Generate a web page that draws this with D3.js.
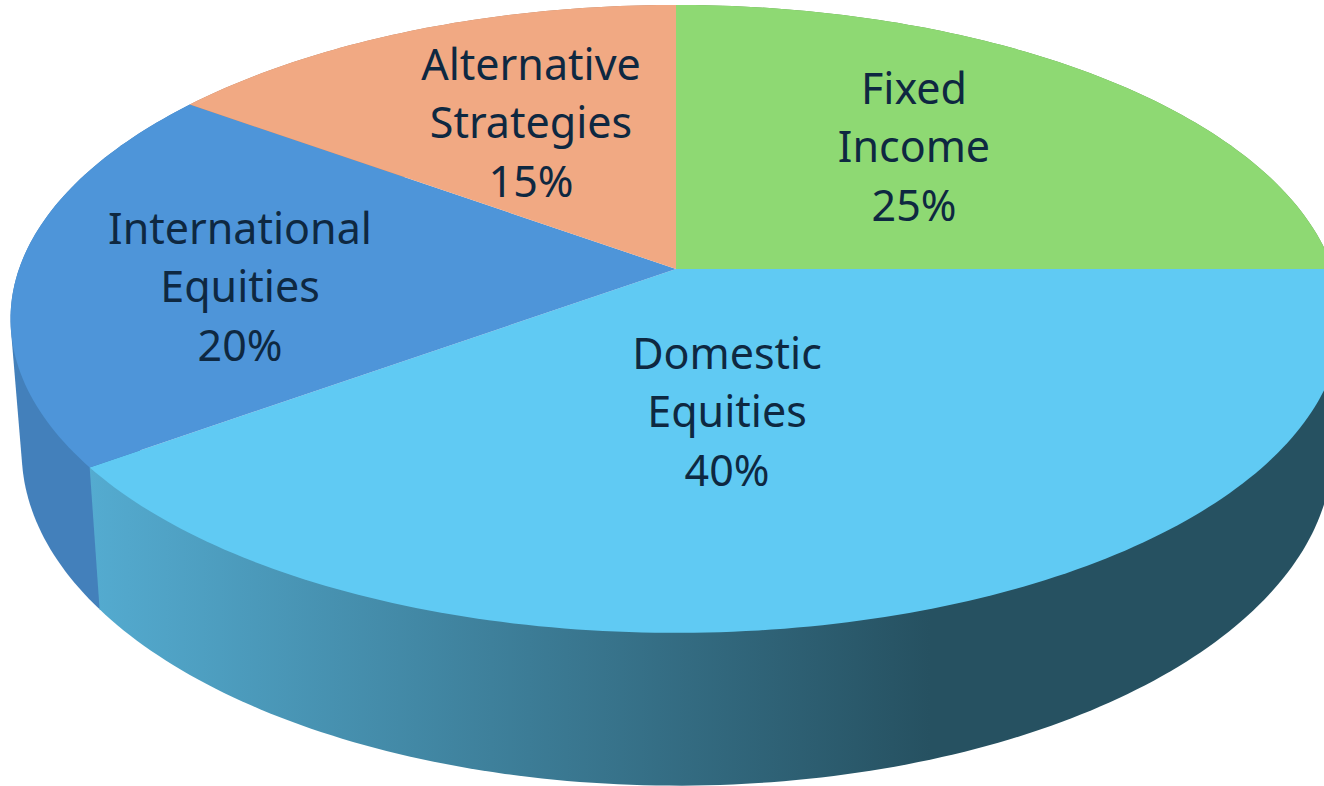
<!DOCTYPE html>
<html lang="en">
<head>
<meta charset="UTF-8">
<title>Asset allocation</title>
<style>
    html, body { margin: 0; padding: 0; background: #fff; overflow: hidden; }
    svg { display: block; }
    .label { font-family: "Noto Sans", sans-serif; font-size: 43px; fill: #0e2841; text-anchor: middle; }
</style>
</head>
<body>
<svg id="chart" width="1324" height="786"></svg>
<script src="https://d3js.org/d3.v7.min.js"></script>
<script>
// values, clockwise from 12 o'clock
const categories = ["Fixed Income", "Domestic Equities", "International Equities", "Alternative Strategies"];
const shares = [25, 40, 20, 15];
const labelLines = [["Fixed", "Income"], ["Domestic", "Equities"], ["International", "Equities"], ["Alternative", "Strategies"]];
const topColors = ["#8ed973", "#60caf3", "#4e95d9", "#f1a983"];
const wallColors = ["#5f9a4c", "url(#domesticWall)", "#4380bb", "#b57f62"];

const width = 1324, height = 786;
const svg = d3.select("#chart");

// perspective of the tilted disc: k is how much nearer points grow
const k = 0.159;
const topFace = { cx: 676, cy: 269, a: 657, b: 306 };
const bottomFace = { cx: 677, cy: 398, a: 647, b: 326 };

const project = (face, angle) => {
    const x = Math.sin(angle), y = -Math.cos(angle), w = 1 - k * y;
    return [face.cx + face.a * x / w, face.cy + face.b * y / w];
};

const arcPoints = (face, d) => {
    const n = Math.ceil((d.endAngle - d.startAngle) * 60);
    return d3.range(n + 1).map(i => project(face, d.startAngle + (d.endAngle - d.startAngle) * i / n));
};

const slices = d3.pie().sort(null).startAngle(0).endAngle(2 * Math.PI)(shares);

const grad = svg.append("defs").append("linearGradient")
    .attr("id", "domesticWall")
    .attr("gradientUnits", "userSpaceOnUse")
    .attr("x1", 90).attr("x2", 930).attr("y1", 0).attr("y2", 0);
grad.append("stop").attr("offset", 0).attr("stop-color", "#54abd0");
grad.append("stop").attr("offset", 1).attr("stop-color", "#265161");

const line = d3.line();

// how far a slice's middle is from the front of the disc, the far ones paint first
const farness = d => Math.abs((d.startAngle + d.endAngle) / 2 - Math.PI);

// side walls first, the top face covers whatever sticks out
svg.append("g").selectAll("path")
    .data(d3.sort(slices, (a, b) => farness(b) - farness(a)))
    .join("path")
    .attr("d", d => line(d3.polygonHull(arcPoints(topFace, d).concat(arcPoints(bottomFace, d)))) + "Z")
    .attr("fill", d => wallColors[d.index]);

svg.append("g").selectAll("path")
    .data(slices)
    .join("path")
    .attr("d", d => line([[topFace.cx, topFace.cy], ...arcPoints(topFace, d)]) + "Z")
    .attr("fill", (d, i) => topColors[i]);

// centre of each label's middle line
const labelAt = [[914, 147], [727, 412], [240, 287], [531, 123]];
const lineGap = 58.5;

const labels = svg.append("g").selectAll("text")
    .data(slices)
    .join("text")
    .attr("class", "label")
    .attr("aria-label", (d, i) => categories[i]);

labels.each(function(d, i) {
    const rows = labelLines[i].concat(d.data + "%");
    d3.select(this).selectAll("tspan")
        .data(rows)
        .join("tspan")
        .attr("x", labelAt[i][0])
        .attr("y", (r, j) => labelAt[i][1] + (j - 1) * lineGap + 15)
        .text(r => r);
});
</script>
</body>
</html>
